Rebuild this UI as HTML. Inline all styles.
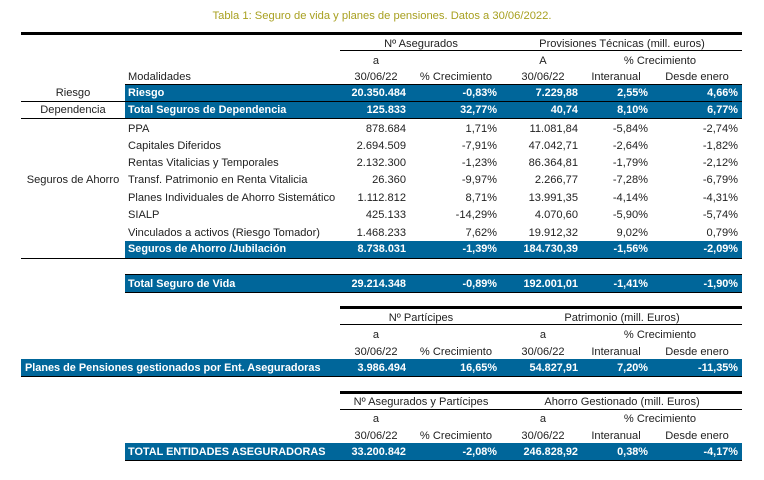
<!DOCTYPE html>
<html><head><meta charset="utf-8"><style>
body{margin:0;width:764px;height:480px;background:#fff;position:relative;font-family:"Liberation Sans",sans-serif;font-size:11.1px;color:#222;overflow:hidden}
.r{position:absolute;left:0;width:764px;height:16px;line-height:16px}
.r span{position:absolute;white-space:nowrap}
.a{right:358px}.b{right:267px}.c{right:186px}.d{right:116px}.e{right:26px}
.bar{position:absolute;background:#00669a}
.w{color:#fff;font-weight:bold;font-size:10.9px}
.ln{position:absolute;height:1px;background:#000}
.tk{position:absolute;height:3px;background:#000}
</style></head><body>
<div style="position:absolute;top:10px;left:0;width:764px;text-align:center;color:#a8a020;font-size:11.2px">Tabla 1: Seguro de vida y planes de pensiones. Datos a 30/06/2022.</div>
<div class="tk" style="left:21px;width:721px;top:32px"></div>
<div class="r" style="top:36px"><span style="left:340px;width:162px;text-align:center">Nº Asegurados</span><span style="left:502px;width:240px;text-align:center">Provisiones Técnicas (mill. euros)</span></div>
<div class="ln" style="left:340px;width:402px;top:50px"></div>
<div class="r" style="top:53px"><span style="left:340px;width:72px;text-align:center">a</span><span style="left:508px;width:70px;text-align:center">A</span><span style="left:578px;width:164px;text-align:center">% Crecimiento</span></div>
<div class="r" style="top:69px"><span style="left:128px">Modalidades</span><span style="left:340px;width:72px;text-align:center">30/06/22</span><span style="left:412px;width:88px;text-align:center">% Crecimiento</span><span style="left:508px;width:70px;text-align:center">30/06/22</span><span style="left:580px;width:72px;text-align:center">Interanual</span><span style="left:655px;width:84px;text-align:center">Desde enero</span></div>
<div class="ln" style="left:125px;width:617px;top:84px"></div>
<div class="bar" style="left:125px;width:617px;top:85px;height:16px"></div>
<div class="r w" style="top:85px"><span style="left:128px">Riesgo</span><span class="a">20.350.484</span><span class="b">-0,83%</span><span class="c">7.229,88</span><span class="d">2,55%</span><span class="e">4,66%</span></div>
<div class="r" style="top:85px"><span style="left:21px;width:104px;text-align:center">Riesgo</span></div>
<div class="ln" style="left:21px;width:721px;top:101px"></div>
<div class="bar" style="left:125px;width:617px;top:102px;height:16px"></div>
<div class="r w" style="top:102px"><span style="left:128px">Total Seguros de Dependencia</span><span class="a">125.833</span><span class="b">32,77%</span><span class="c">40,74</span><span class="d">8,10%</span><span class="e">6,77%</span></div>
<div class="r" style="top:102px"><span style="left:21px;width:104px;text-align:center">Dependencia</span></div>
<div class="ln" style="left:21px;width:721px;top:118px"></div>
<div class="r" style="top:121px"><span style="left:128px">PPA</span><span class="a">878.684</span><span class="b">1,71%</span><span class="c">11.081,84</span><span class="d">-5,84%</span><span class="e">-2,74%</span></div>
<div class="r" style="top:138px"><span style="left:128px">Capitales Diferidos</span><span class="a">2.694.509</span><span class="b">-7,91%</span><span class="c">47.042,71</span><span class="d">-2,64%</span><span class="e">-1,82%</span></div>
<div class="r" style="top:155px"><span style="left:128px">Rentas Vitalicias y Temporales</span><span class="a">2.132.300</span><span class="b">-1,23%</span><span class="c">86.364,81</span><span class="d">-1,79%</span><span class="e">-2,12%</span></div>
<div class="r" style="top:172px"><span style="left:21px;width:104px;text-align:center">Seguros de Ahorro</span><span style="left:128px">Transf. Patrimonio en Renta Vitalicia</span><span class="a">26.360</span><span class="b">-9,97%</span><span class="c">2.266,77</span><span class="d">-7,28%</span><span class="e">-6,79%</span></div>
<div class="r" style="top:190px"><span style="left:128px">Planes Individuales de Ahorro Sistemático</span><span class="a">1.112.812</span><span class="b">8,71%</span><span class="c">13.991,35</span><span class="d">-4,14%</span><span class="e">-4,31%</span></div>
<div class="r" style="top:207px"><span style="left:128px">SIALP</span><span class="a">425.133</span><span class="b">-14,29%</span><span class="c">4.070,60</span><span class="d">-5,90%</span><span class="e">-5,74%</span></div>
<div class="r" style="top:225px"><span style="left:128px">Vinculados a activos (Riesgo Tomador)</span><span class="a">1.468.233</span><span class="b">7,62%</span><span class="c">19.912,32</span><span class="d">9,02%</span><span class="e">0,79%</span></div>
<div class="bar" style="left:125px;width:617px;top:241px;height:17px"></div>
<div class="r w" style="top:241px"><span style="left:128px">Seguros de Ahorro /Jubilación</span><span class="a">8.738.031</span><span class="b">-1,39%</span><span class="c">184.730,39</span><span class="d">-1,56%</span><span class="e">-2,09%</span></div>
<div class="ln" style="left:21px;width:721px;top:258px"></div>
<div class="ln" style="left:125px;width:617px;top:274px"></div>
<div class="bar" style="left:125px;width:617px;top:275px;height:17px"></div>
<div class="r w" style="top:276px"><span style="left:128px">Total Seguro de Vida</span><span class="a">29.214.348</span><span class="b">-0,89%</span><span class="c">192.001,01</span><span class="d">-1,41%</span><span class="e">-1,90%</span></div>
<div class="ln" style="left:125px;width:617px;top:292px"></div>

<div class="tk" style="left:340px;width:402px;top:306px"></div>
<div class="r" style="top:310px"><span style="left:340px;width:162px;text-align:center">Nº Partícipes</span><span style="left:502px;width:240px;text-align:center">Patrimonio (mill. Euros)</span></div>
<div class="ln" style="left:340px;width:402px;top:324px"></div>
<div class="r" style="top:327px"><span style="left:340px;width:72px;text-align:center">a</span><span style="left:508px;width:70px;text-align:center">a</span><span style="left:578px;width:164px;text-align:center">% Crecimiento</span></div>
<div class="r" style="top:344px"><span style="left:340px;width:72px;text-align:center">30/06/22</span><span style="left:412px;width:88px;text-align:center">% Crecimiento</span><span style="left:508px;width:70px;text-align:center">30/06/22</span><span style="left:580px;width:72px;text-align:center">Interanual</span><span style="left:655px;width:84px;text-align:center">Desde enero</span></div>
<div class="bar" style="left:21px;width:721px;top:359px;height:17px"></div>
<div class="r w" style="top:360px"><span style="left:25px">Planes de Pensiones gestionados por Ent. Aseguradoras</span><span class="a">3.986.494</span><span class="b">16,65%</span><span class="c">54.827,91</span><span class="d">7,20%</span><span class="e">-11,35%</span></div>
<div class="ln" style="left:21px;width:721px;top:376px"></div>

<div class="tk" style="left:340px;width:402px;top:391px"></div>
<div class="r" style="top:394px"><span style="left:340px;width:162px;text-align:center">Nº Asegurados y Partícipes</span><span style="left:502px;width:240px;text-align:center">Ahorro Gestionado (mill. Euros)</span></div>
<div class="ln" style="left:340px;width:402px;top:409px"></div>
<div class="r" style="top:411px"><span style="left:340px;width:72px;text-align:center">a</span><span style="left:508px;width:70px;text-align:center">a</span><span style="left:578px;width:164px;text-align:center">% Crecimiento</span></div>
<div class="r" style="top:428px"><span style="left:340px;width:72px;text-align:center">30/06/22</span><span style="left:412px;width:88px;text-align:center">% Crecimiento</span><span style="left:508px;width:70px;text-align:center">30/06/22</span><span style="left:580px;width:72px;text-align:center">Interanual</span><span style="left:655px;width:84px;text-align:center">Desde enero</span></div>
<div class="bar" style="left:125px;width:617px;top:443px;height:17px"></div>
<div class="r w" style="top:444px"><span style="left:128px">TOTAL ENTIDADES ASEGURADORAS</span><span class="a">33.200.842</span><span class="b">-2,08%</span><span class="c">246.828,92</span><span class="d">0,38%</span><span class="e">-4,17%</span></div>
<div class="ln" style="left:125px;width:617px;top:460px"></div>
</body></html>
